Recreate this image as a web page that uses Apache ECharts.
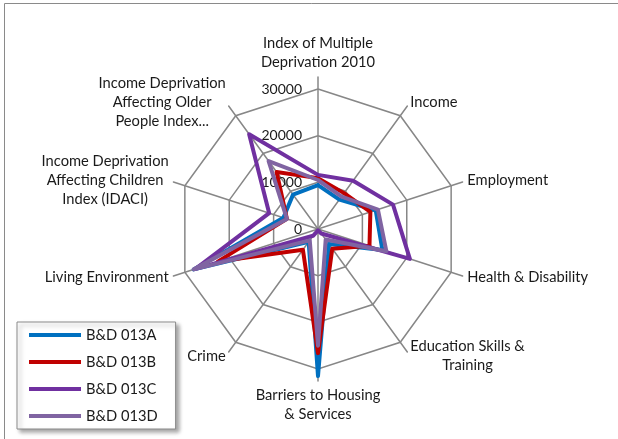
<!DOCTYPE html>
<html><head><meta charset="utf-8">
<script src="https://cdn.jsdelivr.net/npm/echarts@6/dist/echarts.min.js"></script>
<style>html,body{margin:0;padding:0;background:#fff}#c{width:618px;height:439px}</style>
</head><body><div id="c"></div>
<script>
// Categories in clockwise order starting at the top
const categories = [
  'Index of Multiple\nDeprivation 2010',
  'Income',
  'Employment',
  'Health & Disability',
  'Education Skills &\nTraining',
  'Barriers to Housing\n& Services',
  'Crime',
  'Living Environment',
  'Income Deprivation\nAffecting Children\nIndex (IDACI)',
  'Income Deprivation\nAffecting Older\nPeople Index...'
];
const seriesNames = ['B&D 013A', 'B&D 013B', 'B&D 013C', 'B&D 013D'];
const valuesA = [9400, 7800, 13000, 14500, 4000, 31500, 3400, 28000, 7800, 9100];
const valuesB = [10900, 9500, 11800, 11600, 5200, 26600, 5500, 22600, 7000, 15100];
const valuesC = [11600, 12800, 16900, 20700, 1200, 300, 1800, 27600, 11000, 25100];
const valuesD = [10500, 8600, 13500, 15400, 2800, 25000, 3000, 28000, 7000, 18000];
const tickLabels = ['0', '10000', '20000', '30000'];
const axisMin = 0;
const axisMax = 30000;
const tickInterval = 10000;

const colors = ['#0070C0', '#C00000', '#7030A0', '#8064A2'];
const FONT = 'Lato';
const FS = 14.7;
const TEXT = '#1a1a1a';
const GRID = '#878787';

// ECharts places radar indicators counter-clockwise; reorder to get clockwise
const order = [0].concat(categories.slice(1).map((_, i) => categories.length - 1 - i));
const reorder = arr => order.map(k => arr[k]);

const allValues = [valuesA, valuesB, valuesC, valuesD];

const chart = echarts.init(document.getElementById('c'));
chart.setOption({
  animation: false,
  graphic: [{
    type: 'rect', silent: true, z: -10,
    shape: { x: 4.5, y: 3.5, width: 700, height: 500 },
    style: { fill: 'none', stroke: '#8a8a8a', lineWidth: 1 }
  }],
  radar: [
    {
      center: [318, 229], radius: 140, startAngle: 90, shape: 'polygon',
      splitNumber: (axisMax - axisMin) / tickInterval,
      indicator: order.map((k, i) => {
        const ind = { name: categories[k], min: axisMin, max: axisMax };
        if (i === 0) ind.axisLabel = { show: true };
        return ind;
      }),
      axisName: { show: false },
      axisLine: { show: false },
      axisTick: { show: false },
      splitArea: { show: false },
      splitLine: { lineStyle: { color: GRID, width: 1.5 } },
      axisLabel: {
        show: false, color: TEXT, fontSize: 14, fontFamily: FONT, margin: 16,
        formatter: v => tickLabels[Math.round((v - axisMin) / tickInterval)]
      }
    },
    {
      center: [318, 229], radius: 152, startAngle: 90, shape: 'polygon',
      indicator: order.map(k => ({ name: categories[k], min: axisMin, max: axisMax })),
      axisLine: { lineStyle: { color: GRID, width: 1.5 } },
      axisTick: { show: false },
      axisLabel: { show: false },
      splitLine: { show: false },
      splitArea: { show: false },
      nameGap: 5,
      axisName: {
        color: TEXT, fontSize: FS, fontFamily: FONT,
        formatter: name => name.split('\n').map(l => '{c|' + l + '}').join('\n'),
        rich: { c: { align: 'center', color: TEXT, fontSize: FS, fontFamily: FONT, lineHeight: 19 } }
      }
    }
  ],
  legend: {
    data: seriesNames,
    orient: 'vertical', left: 17, top: 322,
    padding: [5, 18, 5, 12], itemGap: 11,
    itemWidth: 52, itemHeight: 4, icon: 'rect',
    backgroundColor: '#fff', borderColor: '#8a8a8a', borderWidth: 1,
    shadowBlur: 4, shadowOffsetX: 3, shadowOffsetY: 3, shadowColor: 'rgba(0,0,0,0.35)',
    itemStyle: { borderWidth: 0 },
    textStyle: { color: TEXT, fontSize: FS, fontFamily: FONT, lineHeight: 16 }
  },
  series: seriesNames.map((n, i) => ({
    type: 'radar', radarIndex: 0, name: n, symbol: 'none',
    lineStyle: { color: colors[i], width: 4, join: 'round', cap: 'round' },
    itemStyle: { color: colors[i] },
    data: [{ name: n, value: reorder(allValues[i]) }]
  }))
});
</script>
</body></html>
